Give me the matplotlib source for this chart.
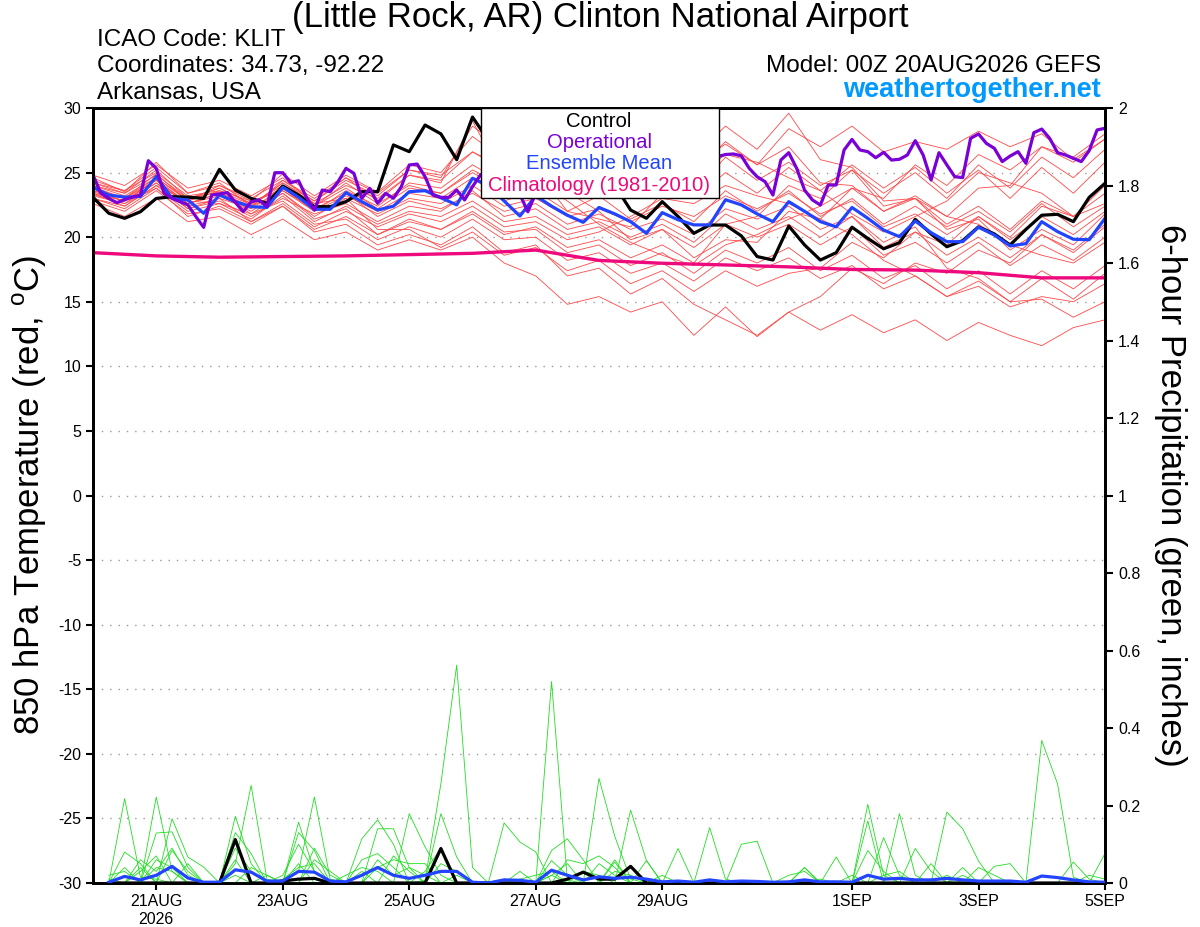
import numpy as np
import matplotlib as mpl
mpl.use('Agg')
import matplotlib.pyplot as plt
from matplotlib.patches import Rectangle
from matplotlib.ticker import FuncFormatter

plt.rcParams['font.family'] = ['Liberation Sans', 'DejaVu Sans']
plt.rcParams['mathtext.fontset'] = 'custom'
plt.rcParams['mathtext.rm'] = 'Liberation Sans'
plt.rcParams['axes.unicode_minus'] = False

#
# data
#

# forecast hours from 00Z 20AUG2026
hours_3h = np.arange(0, 385, 3)
hours_6h = np.arange(0, 385, 6)
hours_12h = np.arange(0, 385, 12)
hours_24h = np.arange(0, 385, 24)
hours_precip = np.arange(6, 385, 6)

# operational 850 hPa temperature (3-hourly)
oper_t = [24.81, 23.39, 23.0, 22.67, 22.9, 23.1, 23.26, 25.92, 25.33, 23.39,
          23.01, 22.75, 22.5, 21.6, 20.76, 23.26, 23.35, 23.45, 22.7, 21.97,
          22.75, 22.88, 22.36, 24.99, 24.99, 24.22, 24.37, 23.08, 22.1, 23.65,
          23.52, 24.3, 25.33, 24.94, 23.01, 23.78, 22.62, 23.39, 23.01, 23.91,
          25.59, 25.66, 24.68, 23.26, 23.08, 23.08, 23.65, 22.88, 23.91, 24.81,
          25.2, 25.5, 24.8, 24.0, 23.3, 21.97, 23.4, 24.5, 25.5, 26.0,
          25.2, 26.5, 27.0, 26.2, 25.5, 26.8, 27.3, 26.5, 25.8, 26.0,
          26.9, 27.5, 26.8, 26.0, 25.6, 26.3, 26.9, 26.5, 26.0, 26.23,
          26.4, 26.44, 26.3, 25.33, 24.68, 24.3, 23.26, 25.97, 26.54, 25.33,
          23.65, 22.88, 22.49, 24.04, 24.04, 26.75, 27.57, 26.75, 26.62, 26.15,
          26.57, 25.97, 26.03, 26.36, 27.47, 26.36, 24.43, 26.54, 25.59, 24.68,
          24.61, 27.65, 27.99, 27.26, 26.88, 25.85, 26.28, 26.62, 25.72, 28.09,
          28.37, 27.65, 26.54, 26.36, 26.1, 25.85, 26.7, 28.3, 28.43]

# control (6-hourly)
ctrl_t = [23.09, 21.85, 21.46, 21.97, 23.0, 23.13, 23.1, 23.0, 25.25, 23.65,
          23.0, 22.62, 23.96, 23.26, 22.36, 22.36, 22.75, 23.52, 23.52, 27.14,
          26.62, 28.68, 28.0, 26.0, 29.3, 27.5, 26.5, 25.5, 26.0, 25.0,
          24.5, 25.0, 24.3, 24.0, 22.1, 21.46, 22.75, 21.6, 20.3, 20.94,
          20.94, 20.1, 18.5, 18.23, 20.86, 19.4, 18.23, 18.8, 20.77, 19.9,
          19.1, 19.57, 21.38, 20.25, 19.26, 19.73, 20.8, 20.25, 19.4, 20.6,
          21.7, 21.77, 21.2, 23.08, 24.17]

# ensemble mean (6-hourly)
mean_t = [23.86, 23.26, 23.1, 23.15, 24.7, 23.0, 22.88, 21.85, 23.26, 22.75,
          22.36, 22.3, 23.86, 23.09, 22.16, 22.16, 23.45, 22.75, 22.1, 22.4,
          23.52, 23.6, 23.05, 22.5, 24.56, 24.0, 22.8, 21.64, 23.2, 22.4,
          21.7, 21.15, 22.3, 21.8, 21.2, 20.3, 21.9, 21.35, 20.95, 20.95,
          22.9, 22.5, 21.8, 21.2, 22.75, 22.0, 21.2, 20.8, 22.3, 21.46,
          20.55, 20.04, 21.25, 20.35, 19.65, 19.65, 20.77, 20.17, 19.32, 19.5,
          21.2, 20.43, 19.84, 19.8, 21.46]

# climatology 1981-2010 (daily)
clim_t = [18.8, 18.55, 18.45, 18.5, 18.55, 18.65, 18.75, 19.0, 18.2,
          17.98, 17.85, 17.7, 17.5, 17.45, 17.25, 16.85, 16.85]

# ensemble members (12-hourly)
member_t = [
    [24.6, 23.5, 25.8, 23.4, 24.0, 22.8, 24.9, 23.2, 24.8, 23.5, 25.6, 25.0, 27.8, 26.0, 27.5, 25.2, 26.8,
     25.0, 27.5, 26.2, 28.6, 26.8, 29.6, 26.0, 25.4, 22.8, 23.0, 21.0, 22.4, 20.6, 22.8, 21.6, 23.4],
    [23.9, 23.0, 24.9, 22.8, 23.6, 22.5, 24.2, 22.6, 24.0, 23.0, 24.8, 24.4, 26.6, 25.2, 26.4, 24.0, 25.6,
     24.2, 26.4, 25.0, 27.4, 25.6, 28.4, 27.0, 28.6, 26.6, 27.4, 26.8, 28.2, 27.0, 28.0, 26.0, 27.6],
    [24.2, 23.4, 25.2, 23.0, 23.5, 22.3, 24.4, 22.8, 24.4, 23.2, 25.2, 24.6, 28.6, 26.8, 26.0, 23.5, 22.0,
     19.8, 20.6, 18.4, 19.8, 19.6, 22.0, 21.4, 23.8, 23.0, 25.6, 24.0, 26.4, 25.2, 27.0, 25.8, 27.6],
    [23.5, 22.8, 24.5, 22.6, 23.2, 22.0, 23.6, 22.0, 23.6, 22.4, 24.2, 23.8, 25.6, 24.2, 25.4, 23.6, 24.8,
     23.0, 25.0, 23.4, 26.2, 24.4, 25.8, 24.0, 25.2, 23.4, 25.0, 23.0, 25.6, 23.8, 26.2, 24.6, 26.8],
    [24.0, 23.2, 24.6, 22.9, 23.8, 22.6, 24.0, 22.4, 23.8, 22.2, 23.8, 23.4, 25.0, 23.6, 24.4, 22.8, 21.0,
     19.6, 18.6, 17.8, 19.4, 20.2, 21.4, 22.4, 23.8, 22.0, 23.2, 21.6, 21.0, 19.4, 18.6, 18.0, 19.6],
    [23.6, 23.0, 24.4, 22.4, 23.0, 22.2, 23.8, 22.0, 23.2, 22.0, 23.4, 23.0, 24.6, 22.8, 23.6, 22.0, 23.2,
     21.4, 22.6, 21.2, 23.6, 22.0, 23.6, 21.6, 23.0, 21.0, 22.4, 20.8, 22.0, 20.4, 22.6, 20.8, 22.4],
    [23.2, 22.6, 24.2, 22.6, 23.4, 21.8, 23.4, 21.6, 23.0, 21.8, 23.0, 22.6, 24.0, 22.4, 23.0, 21.6, 22.2,
     21.2, 22.4, 21.6, 23.2, 22.2, 23.4, 21.8, 22.8, 20.8, 21.8, 20.2, 21.6, 19.8, 21.6, 20.2, 22.0],
    [24.2, 23.6, 25.0, 23.2, 23.6, 22.8, 23.6, 22.2, 23.4, 21.6, 22.8, 22.2, 23.4, 22.0, 22.6, 21.0, 21.8,
     20.6, 21.4, 20.2, 22.2, 21.4, 22.4, 20.6, 21.6, 19.6, 20.8, 17.6, 16.8, 15.0, 15.2, 13.8, 15.0],
    [23.4, 22.4, 24.0, 22.2, 22.8, 21.6, 23.0, 21.8, 22.6, 21.2, 22.4, 22.0, 23.6, 21.6, 22.2, 20.6, 21.2,
     20.0, 21.0, 19.6, 21.8, 20.6, 21.6, 20.0, 21.6, 19.2, 20.4, 18.6, 20.0, 18.4, 20.2, 18.8, 20.8],
    [23.8, 23.0, 24.6, 22.8, 22.6, 21.4, 23.2, 21.2, 22.4, 21.0, 22.0, 21.6, 22.8, 21.2, 21.6, 20.2, 20.8,
     19.4, 20.6, 19.2, 21.0, 20.0, 21.0, 19.4, 20.8, 18.6, 19.6, 18.0, 19.6, 17.8, 19.4, 18.2, 20.0],
    [23.0, 22.2, 23.8, 21.6, 22.4, 21.2, 22.6, 20.8, 22.0, 20.8, 21.8, 21.2, 22.4, 20.8, 21.2, 19.8, 20.4,
     21.6, 23.0, 22.6, 24.0, 23.2, 22.6, 21.4, 20.2, 18.2, 17.0, 15.4, 16.2, 14.6, 15.4, 15.0, 16.4],
    [24.4, 23.6, 25.4, 23.4, 24.2, 22.4, 23.4, 21.4, 22.2, 20.2, 21.4, 20.6, 21.8, 20.2, 20.8, 19.2, 19.8,
     18.4, 19.4, 18.0, 21.0, 21.6, 24.0, 23.0, 25.2, 22.4, 23.0, 20.6, 21.4, 19.0, 20.6, 19.4, 21.8],
    [22.8, 22.0, 23.6, 21.8, 22.2, 21.0, 22.4, 20.6, 21.6, 20.2, 21.2, 20.6, 22.0, 20.4, 20.6, 18.8, 19.4,
     17.8, 18.8, 17.2, 19.0, 18.0, 19.2, 17.4, 18.6, 16.8, 17.8, 16.0, 17.4, 15.6, 17.4, 16.0, 17.8],
    [23.3, 22.6, 23.8, 22.0, 22.6, 21.8, 22.8, 21.0, 21.4, 19.8, 20.8, 20.0, 21.4, 19.8, 20.0, 18.2, 18.8,
     17.2, 18.0, 16.6, 18.4, 17.4, 18.4, 16.8, 17.8, 16.0, 17.0, 15.4, 16.6, 15.0, 16.8, 15.2, 17.2],
    [24.8, 24.0, 25.6, 23.8, 24.4, 23.2, 24.6, 22.6, 23.0, 20.6, 20.6, 19.2, 20.4, 18.6, 19.2, 17.4, 18.2,
     16.4, 17.4, 15.8, 17.4, 16.2, 17.2, 17.6, 19.6, 18.4, 20.4, 19.4, 21.6, 20.0, 22.4, 21.6, 24.0],
    [23.6, 22.8, 24.2, 22.2, 23.0, 21.2, 22.4, 20.4, 21.0, 19.4, 20.2, 19.4, 20.8, 18.8, 19.4, 17.0, 17.6,
     15.6, 16.8, 14.8, 13.6, 12.4, 14.2, 15.4, 17.6, 16.4, 18.0, 17.2, 19.0, 18.0, 20.2, 19.0, 21.0],
    [22.6, 21.6, 23.0, 21.2, 21.6, 20.2, 21.4, 19.8, 20.4, 19.0, 19.8, 19.0, 20.0, 18.0, 17.0, 14.8, 15.4,
     14.2, 15.0, 12.4, 14.6, 12.3, 14.2, 12.8, 14.0, 12.6, 13.6, 12.0, 13.4, 12.4, 11.6, 13.0, 13.6],
    [24.0, 23.4, 24.8, 23.0, 23.8, 22.6, 23.8, 22.4, 24.2, 22.6, 24.0, 23.4, 25.2, 24.0, 25.0, 23.4, 24.6,
     23.0, 24.6, 23.0, 25.0, 23.4, 25.4, 23.6, 25.6, 23.8, 25.4, 23.4, 25.2, 23.0, 25.4, 23.4, 25.8],
    [23.0, 22.4, 24.0, 22.8, 24.0, 23.0, 24.4, 23.0, 24.6, 23.4, 25.2, 24.8, 26.6, 25.4, 26.8, 25.6, 27.0,
     25.4, 27.0, 25.6, 27.2, 25.6, 27.0, 24.2, 24.0, 22.0, 23.0, 21.6, 23.8, 24.0, 27.0, 26.2, 28.0],
    [23.4, 22.8, 24.4, 22.6, 23.4, 22.4, 24.2, 22.8, 24.6, 22.8, 24.8, 24.2, 29.0, 24.4, 25.2, 22.0, 21.4,
     20.8, 23.4, 24.6, 26.4, 25.8, 24.6, 23.6, 21.8, 20.4, 21.6, 22.8, 25.0, 24.2, 23.4, 21.6, 22.6],
]

# 6-hour precipitation, inches (06Z 20AUG onward)
mean_p = [0.002, 0.017, 0.008, 0.02, 0.043, 0.013, 0.002, 0.002, 0.034, 0.028, 0.005, 0.005, 0.03, 0.028, 0.005, 0.003,
          0.02, 0.04, 0.02, 0.012, 0.02, 0.03, 0.03, 0.002, 0, 0.008, 0.007, 0.002, 0.033, 0.02, 0.008, 0.016,
          0.012, 0.015, 0.01, 0.003, 0.005, 0.002, 0.008, 0.003, 0.005, 0.004, 0.002, 0.003, 0.008, 0.003, 0.003, 0.002,
          0.02, 0.01, 0.012, 0.008, 0.008, 0.012, 0.008, 0.005, 0.005, 0.005, 0.002, 0.018, 0.014, 0.008, 0.003, 0.002]

ctrl_p = [0, 0, 0, 0, 0, 0, 0, 0, 0.112, 0, 0, 0.005, 0.01, 0.012, 0, 0,
          0, 0, 0, 0, 0, 0.089, 0, 0, 0, 0, 0, 0, 0, 0.01, 0.028, 0.01,
          0.01, 0.043, 0, 0, 0, 0, 0, 0, 0, 0, 0, 0, 0, 0, 0, 0,
          0, 0, 0, 0, 0, 0, 0, 0, 0, 0, 0, 0, 0, 0, 0, 0]

member_p = [
    [0, 0.218, 0.015, 0.01, 0, 0, 0, 0, 0.05, 0.252, 0.01, 0, 0.03, 0.222, 0.01, 0,
     0, 0, 0, 0, 0.007, 0.256, 0.562, 0.04, 0, 0, 0, 0, 0.02, 0, 0, 0.05,
     0.02, 0, 0, 0, 0, 0, 0, 0, 0.1, 0.108, 0, 0, 0, 0, 0, 0,
     0, 0, 0, 0, 0, 0.183, 0.14, 0.057, 0, 0, 0, 0, 0, 0, 0, 0],
    [0, 0, 0, 0.222, 0.03, 0, 0, 0, 0.172, 0.05, 0, 0, 0.157, 0.03, 0, 0,
     0, 0, 0, 0.179, 0.093, 0.02, 0, 0, 0, 0, 0, 0, 0.52, 0.007, 0, 0,
     0, 0, 0, 0, 0, 0, 0.143, 0.01, 0, 0, 0, 0, 0, 0, 0, 0,
     0.203, 0.02, 0, 0, 0, 0, 0, 0, 0, 0, 0, 0.368, 0.256, 0.015, 0, 0],
    [0, 0.08, 0.05, 0, 0.166, 0.067, 0.041, 0, 0.13, 0.076, 0, 0, 0, 0, 0, 0,
     0.114, 0.163, 0.1, 0, 0, 0, 0, 0, 0, 0.155, 0.106, 0.08, 0, 0, 0, 0.27,
     0.12, 0.01, 0, 0, 0, 0, 0, 0, 0, 0, 0, 0, 0.04, 0, 0.067, 0,
     0, 0, 0.179, 0.02, 0, 0, 0, 0, 0, 0, 0, 0, 0, 0, 0, 0],
    [0, 0, 0, 0.129, 0.132, 0.04, 0, 0, 0, 0, 0, 0, 0.13, 0.084, 0, 0,
     0, 0.14, 0.14, 0.04, 0, 0.179, 0.067, 0, 0, 0, 0, 0, 0.084, 0.114, 0.06, 0,
     0, 0.188, 0.058, 0, 0.089, 0, 0, 0, 0, 0, 0, 0, 0, 0, 0, 0,
     0, 0.117, 0.02, 0, 0, 0, 0, 0, 0.043, 0.05, 0, 0, 0, 0, 0, 0.076],
    [0.01, 0, 0.04, 0, 0.084, 0.03, 0, 0, 0, 0, 0, 0.02, 0.1, 0.03, 0, 0,
     0.06, 0.076, 0.04, 0, 0.03, 0.09, 0, 0, 0, 0, 0.03, 0, 0.058, 0.02, 0, 0,
     0.054, 0, 0.058, 0, 0, 0, 0, 0, 0, 0, 0, 0, 0, 0, 0, 0,
     0.16, 0, 0, 0, 0.05, 0, 0.04, 0, 0, 0, 0, 0, 0, 0.054, 0.01, 0],
    [0, 0.04, 0, 0.06, 0.04, 0, 0, 0, 0.06, 0, 0.02, 0, 0, 0.06, 0.03, 0,
     0, 0.06, 0.02, 0.04, 0.02, 0, 0, 0, 0, 0, 0, 0, 0, 0.06, 0.05, 0.07,
     0.04, 0, 0, 0, 0, 0, 0, 0, 0, 0, 0, 0, 0.04, 0, 0, 0,
     0.084, 0.03, 0, 0.089, 0.03, 0, 0, 0.04, 0.02, 0, 0, 0, 0, 0, 0, 0],
    [0, 0, 0.03, 0.07, 0, 0.05, 0, 0, 0.09, 0.03, 0, 0, 0.05, 0, 0, 0.02,
     0.04, 0.03, 0, 0, 0, 0.05, 0.03, 0, 0, 0, 0.01, 0.02, 0.03, 0, 0, 0,
     0.03, 0.02, 0, 0, 0, 0, 0, 0, 0, 0, 0, 0, 0, 0.01, 0, 0.02,
     0, 0, 0, 0, 0, 0, 0.02, 0, 0, 0, 0, 0, 0, 0, 0, 0],
    [0.02, 0.03, 0, 0.04, 0.03, 0, 0, 0, 0.02, 0, 0, 0.01, 0.04, 0.05, 0, 0,
     0, 0.04, 0.06, 0.05, 0.05, 0, 0, 0, 0, 0, 0, 0, 0, 0, 0.03, 0.02,
     0, 0, 0, 0, 0, 0, 0, 0, 0, 0, 0, 0.02, 0.03, 0, 0, 0,
     0, 0, 0, 0, 0, 0.02, 0, 0, 0, 0, 0, 0, 0, 0, 0.02, 0.01],
    [0, 0, 0.06, 0.03, 0.09, 0.02, 0, 0, 0, 0.04, 0.02, 0, 0, 0.09, 0.02, 0,
     0.03, 0, 0.07, 0.03, 0, 0, 0.02, 0, 0, 0.01, 0, 0, 0.02, 0.05, 0, 0,
     0.06, 0, 0, 0.02, 0, 0, 0, 0, 0, 0, 0, 0, 0, 0, 0, 0,
     0, 0.02, 0.03, 0, 0, 0, 0, 0, 0, 0, 0, 0, 0, 0, 0, 0],
]

# x ticks (days after 00Z 20AUG) and labels
tick_days = [1, 3, 5, 7, 9, 12, 14, 16]
tick_labels = ['21AUG\n2026', '23AUG', '25AUG', '27AUG', '29AUG', '1SEP', '3SEP', '5SEP']

# colors
c_oper = '#7a00d8'
c_mean = '#2244ff'
c_clim = '#ee0a7c'
c_memb = '#ff4848'
c_prcp = '#22dd22'

#
# plot
#

fig = plt.figure(figsize=(12, 9.27), dpi=100)
ax = fig.add_axes([93/1200, 1-883/927, 1012/1200, 775/927])
ax2 = ax.twinx()

for m in member_t:
    ax.plot(hours_12h/24, m, color=c_memb, lw=0.6, zorder=1)
ax.plot(hours_24h/24, clim_t, color=c_clim, lw=2.4, zorder=3)
ax.plot(hours_6h/24, ctrl_t, color='k', lw=2.3, zorder=4)
ax.plot(hours_6h/24, mean_t, color=c_mean, lw=2.3, zorder=5)
ax.plot(hours_3h/24, oper_t, color=c_oper, lw=2.3, zorder=6)

for m in member_p:
    ax2.plot(hours_precip/24, m, color=c_prcp, lw=0.6, zorder=1)
ax2.plot(hours_precip/24, ctrl_p, color='k', lw=2.3, zorder=3)
ax2.plot(hours_precip/24, mean_p, color=c_mean, lw=2.3, zorder=4)

ax.set_xlim(0, 16)
ax.set_ylim(-30, 30)
ax2.set_ylim(0, 2)
ax.set_yticks(np.arange(-30, 31, 5))
ax.yaxis.set_major_formatter(FuncFormatter(lambda v, p: '%d' % v))
ax2.set_yticks(np.arange(0, 2.01, 0.2))
ax2.yaxis.set_major_formatter(FuncFormatter(lambda v, p: '%g' % round(v, 1)))
ax.set_xticks(tick_days)
ax.set_xticklabels(tick_labels)

for a in (ax, ax2):
    for s in a.spines.values():
        s.set_linewidth(2)
ax.tick_params(axis='both', labelsize=11.5, width=1.5, length=5, direction='out')
ax.tick_params(axis='x', pad=3)
ax2.tick_params(axis='y', labelsize=11.5, width=1.5, length=6, direction='out')

for v in range(-25, 30, 5):
    ax.axhline(v, color='#999999', lw=1, ls=(0, (1, 5)), zorder=0)

# legend box
ax2.add_patch(Rectangle((0.3834, 0.8839), 0.2352, 0.1161, transform=ax2.transAxes,
                        facecolor='white', edgecolor='k', lw=1, zorder=20, clip_on=False))
leg_items = [('Control', 'k', 0.983), ('Operational', c_oper, 0.956),
             ('Ensemble Mean', c_mean, 0.929), ('Climatology (1981-2010)', c_clim, 0.9006)]
for txt, col, yy in leg_items:
    ax2.text(0.5, yy, txt, color=col, fontsize=14.6, ha='center', va='center',
             transform=ax2.transAxes, zorder=21)

# header text
fig.text(0.5, 1-18/927, '(Little Rock, AR) Clinton National Airport', fontsize=25,
         ha='center', va='center')
fig.text(97/1200, 1-40/927, 'ICAO Code: KLIT', fontsize=17.5, va='center')
fig.text(97/1200, 1-66/927, 'Coordinates: 34.73, -92.22', fontsize=17.5, va='center')
fig.text(97/1200, 1-93/927, 'Arkansas, USA', fontsize=17.5, va='center')
fig.text(1101/1200, 1-66/927, 'Model: 00Z 20AUG2026 GEFS', fontsize=17.5, ha='right', va='center')
fig.text(1101/1200, 1-90/927, 'weathertogether.net', fontsize=19.5, ha='right', va='center',
         color='#0099ff', fontweight='bold')

fig.text(30/1200, 1-495/927, r'850 hPa Temperature (red, $^{\rm o}$C)', fontsize=25,
         rotation=90, ha='center', va='center')
fig.text(1170/1200, 1-495/927, '6-hour Precipitation (green, inches)', fontsize=25,
         rotation=270, ha='center', va='center')

fig.savefig('out.png', dpi=100)
